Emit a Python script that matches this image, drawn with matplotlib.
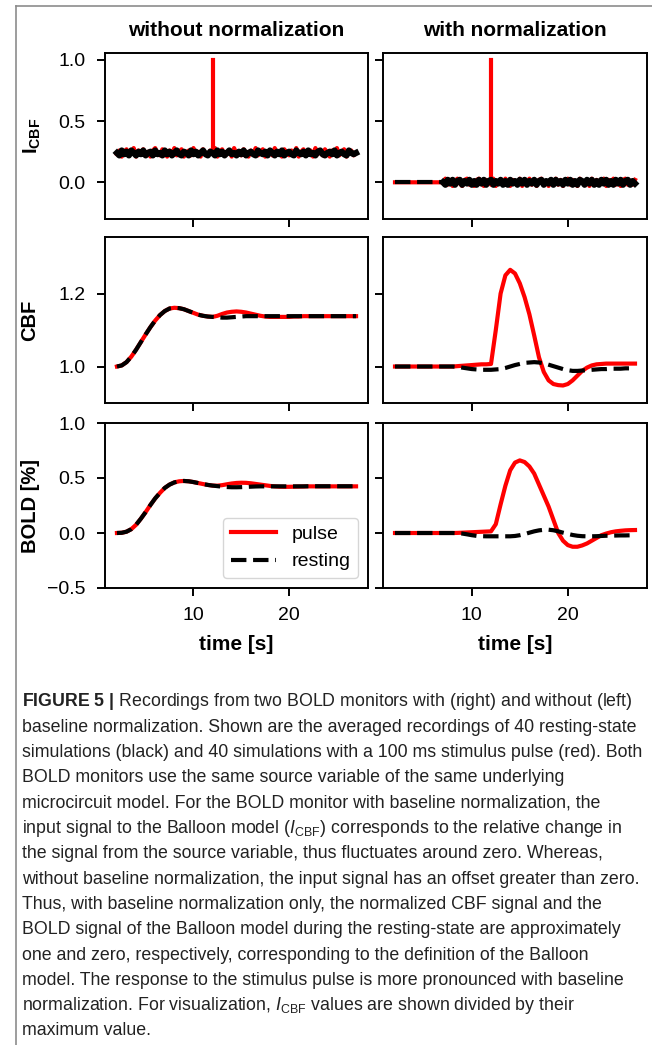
import numpy as np
import matplotlib
matplotlib.use('Agg')
import matplotlib.pyplot as plt
from matplotlib.lines import Line2D

plt.rcParams['font.family'] = ['Liberation Sans', 'DejaVu Sans']
plt.rcParams['mathtext.fontset'] = 'custom'
plt.rcParams['mathtext.rm'] = 'Liberation Sans'
plt.rcParams['mathtext.it'] = 'Liberation Sans:italic'
plt.rcParams['mathtext.bf'] = 'Liberation Sans:bold'

# time grid of the averaged recordings [s]
t = np.arange(2.0, 27.01, 0.5)

# ---- I_CBF (normalized to max), noisy traces sampled every 0.25 s ----
icbf_left_pulse = [0.23, 0.26, 0.21, 0.25, 0.27, 0.22, 0.24, 0.28, 0.21, 0.26,
                   0.23, 0.27, 0.22, 0.25, 0.21, 0.26, 0.28, 0.23, 0.22, 0.27,
                   0.24, 0.21, 0.26, 0.23, 0.28, 0.22, 0.25, 0.27, 0.21, 0.24,
                   0.26, 0.22, 0.28, 0.23, 0.25, 0.21, 0.27, 0.24, 0.22, 0.26,
                   0.23, 0.28, 0.21, 0.25, 0.27, 0.22, 0.24, 0.26, 0.21, 0.28,
                   0.23, 0.25, 0.22, 0.27, 0.24, 0.21, 0.26, 0.23, 0.28, 0.22,
                   0.25, 0.27, 0.21, 0.24, 0.26, 0.22, 0.28, 0.23, 0.25, 0.21,
                   0.27, 0.24, 0.22, 0.26, 0.23, 0.28, 0.21, 0.25, 0.27, 0.22,
                   0.24, 0.26, 0.21, 0.28, 0.23, 0.25, 0.22, 0.27, 0.24, 0.21,
                   0.26, 0.23, 0.28, 0.22, 0.25, 0.27, 0.21, 0.24, 0.26, 0.22,
                   0.24]
icbf_left_rest = [0.24, 0.22, 0.26, 0.23, 0.25, 0.22, 0.26, 0.24, 0.22, 0.25,
                  0.23, 0.26, 0.22, 0.24, 0.25, 0.22, 0.26, 0.23, 0.24, 0.22,
                  0.26, 0.23, 0.25, 0.22, 0.24, 0.26, 0.23, 0.22, 0.25, 0.24,
                  0.22, 0.26, 0.23, 0.25, 0.22, 0.24, 0.26, 0.23, 0.22, 0.25,
                  0.24, 0.22, 0.26, 0.23, 0.25, 0.22, 0.24, 0.26, 0.23, 0.24,
                  0.22, 0.25, 0.23, 0.26, 0.22, 0.24, 0.25, 0.23, 0.22, 0.26,
                  0.24, 0.23, 0.25, 0.22, 0.26, 0.24, 0.22, 0.25, 0.23, 0.26,
                  0.22, 0.24, 0.25, 0.23, 0.22, 0.26, 0.24, 0.23, 0.25, 0.22,
                  0.26, 0.23, 0.24, 0.22, 0.25, 0.26, 0.23, 0.22, 0.24, 0.25,
                  0.23, 0.26, 0.22, 0.24, 0.25, 0.23, 0.22, 0.26, 0.24, 0.23,
                  0.24]
# normalized input: zero during the first 5 s (baseline window), then noise
icbf_right_pulse = [0.0] * 20 + [
                    0.00, 0.03, -0.02, 0.02, -0.03, 0.01, 0.03, -0.01, -0.03, 0.02,
                    0.03, -0.02, 0.01, -0.03, 0.02, 0.03, -0.01, -0.03, 0.02, 0.01,
                    -0.02, 0.03, -0.03, 0.01, 0.02, -0.02, 0.03, -0.01, -0.03, 0.02,
                    0.01, -0.02, 0.03, -0.03, 0.02, -0.01, 0.03, -0.02, 0.01, -0.03,
                    0.02, 0.03, -0.02, 0.01, -0.03, 0.02, -0.01, 0.03, -0.02, 0.02,
                    -0.03, 0.01, 0.03, -0.02, 0.02, -0.01, -0.03, 0.03, 0.01, -0.02,
                    0.02, -0.03, 0.03, -0.01, 0.02, -0.02, 0.01, 0.03, -0.03, 0.02,
                    -0.01, 0.03, -0.02, 0.01, -0.03, 0.02, 0.03, -0.02, 0.01, -0.02,
                    0.02]
icbf_right_rest = [0.0] * 20 + [
                   0.00, -0.02, 0.02, -0.01, 0.02, -0.02, 0.01, 0.02, -0.02, 0.01,
                   -0.01, 0.02, -0.02, 0.01, -0.02, 0.02, -0.01, 0.02, -0.02, 0.01,
                   0.02, -0.02, 0.01, -0.01, 0.02, -0.02, 0.01, -0.02, 0.02, -0.01,
                   0.01, -0.02, 0.02, -0.01, 0.02, -0.02, 0.01, -0.01, 0.02, -0.02,
                   0.01, 0.02, -0.02, 0.01, -0.01, 0.02, -0.02, 0.02, -0.01, 0.01,
                   -0.02, 0.02, -0.01, 0.02, -0.02, 0.01, -0.02, 0.02, 0.01, -0.02,
                   0.02, -0.01, 0.02, -0.02, 0.01, -0.02, 0.02, -0.01, 0.02, -0.02,
                   0.01, -0.02, 0.02, -0.01, 0.02, -0.02, 0.01, 0.02, -0.02, 0.01,
                   -0.01]
noise_start = 20  # index where the right-hand traces start to fluctuate (t = 7 s)
pulse_time = 12.0
pulse_peak = 1.0
icbf_left_base = 0.24
icbf_right_base = 0.0

# ---- CBF ----
cbf_left_pulse = [1.000, 1.003, 1.012, 1.027, 1.046, 1.067, 1.088, 1.108, 1.126, 1.141,
                  1.152, 1.159, 1.161, 1.160, 1.157, 1.152, 1.147, 1.142, 1.139, 1.137,
                  1.136, 1.139, 1.144, 1.148, 1.150, 1.151, 1.150, 1.148, 1.145, 1.142,
                  1.139, 1.137, 1.136, 1.136, 1.136, 1.136, 1.136, 1.137, 1.137, 1.138,
                  1.138, 1.138, 1.138, 1.138, 1.138, 1.138, 1.138, 1.138, 1.138, 1.138,
                  1.138]
cbf_left_rest = [1.000, 1.003, 1.012, 1.027, 1.046, 1.067, 1.088, 1.108, 1.126, 1.141,
                 1.152, 1.159, 1.161, 1.160, 1.157, 1.152, 1.147, 1.142, 1.139, 1.137,
                 1.136, 1.135, 1.134, 1.134, 1.135, 1.136, 1.137, 1.138, 1.138, 1.138,
                 1.138, 1.138, 1.138, 1.138, 1.138, 1.138, 1.138, 1.138, 1.138, 1.138,
                 1.138, 1.138, 1.138, 1.138, 1.138, 1.138, 1.138, 1.138, 1.138, 1.138,
                 1.138]
cbf_right_pulse = [1.000, 1.000, 1.000, 1.000, 1.000, 1.000, 1.000, 1.000, 1.000, 1.000,
                   1.000, 1.000, 1.000, 1.001, 1.002, 1.003, 1.004, 1.005, 1.006, 1.006,
                   1.007, 1.100, 1.200, 1.250, 1.265, 1.255, 1.228, 1.190, 1.143, 1.085,
                   1.025, 0.985, 0.962, 0.952, 0.949, 0.948, 0.952, 0.962, 0.975, 0.988,
                   0.997, 1.003, 1.006, 1.007, 1.008, 1.008, 1.008, 1.008, 1.008, 1.008,
                   1.008]
cbf_right_rest = [1.000, 1.000, 1.000, 1.000, 1.000, 1.000, 1.000, 1.000, 1.000, 1.000,
                  1.000, 1.000, 1.000, 0.999, 0.997, 0.995, 0.993, 0.992, 0.991, 0.991,
                  0.991, 0.992, 0.993, 0.996, 1.000, 1.004, 1.007, 1.010, 1.011, 1.012,
                  1.011, 1.009, 1.005, 1.001, 0.997, 0.993, 0.990, 0.988, 0.988, 0.989,
                  0.990, 0.991, 0.992, 0.993, 0.993, 0.994, 0.994, 0.994, 0.995, 0.995,
                  0.995]

# ---- BOLD [%] ----
bold_left_pulse = [0.000, 0.002, 0.012, 0.035, 0.075, 0.130, 0.190, 0.255, 0.315, 0.365,
                   0.410, 0.440, 0.460, 0.470, 0.473, 0.470, 0.463, 0.454, 0.445, 0.437,
                   0.431, 0.430, 0.435, 0.443, 0.450, 0.455, 0.457, 0.456, 0.452, 0.446,
                   0.440, 0.434, 0.428, 0.424, 0.421, 0.420, 0.420, 0.421, 0.422, 0.423,
                   0.424, 0.424, 0.424, 0.424, 0.424, 0.424, 0.424, 0.424, 0.424, 0.424,
                   0.424]
bold_left_rest = [0.000, 0.002, 0.012, 0.035, 0.075, 0.130, 0.190, 0.255, 0.315, 0.365,
                  0.410, 0.440, 0.460, 0.470, 0.473, 0.470, 0.463, 0.454, 0.445, 0.437,
                  0.431, 0.426, 0.421, 0.418, 0.416, 0.416, 0.417, 0.419, 0.421, 0.423,
                  0.424, 0.424, 0.424, 0.424, 0.424, 0.424, 0.424, 0.424, 0.424, 0.424,
                  0.425, 0.425, 0.425, 0.425, 0.425, 0.425, 0.425, 0.425, 0.425, 0.425,
                  0.425]
bold_right_pulse = [0.000, 0.000, 0.000, 0.000, 0.000, 0.000, 0.000, 0.000, 0.000, 0.000,
                    0.000, 0.000, 0.000, 0.001, 0.003, 0.005, 0.007, 0.009, 0.011, 0.013,
                    0.015, 0.080, 0.260, 0.430, 0.570, 0.640, 0.660, 0.645, 0.605, 0.540,
                    0.440, 0.340, 0.240, 0.120, 0.000, -0.070, -0.110, -0.125, -0.125, -0.113,
                    -0.095, -0.070, -0.045, -0.020, -0.005, 0.007, 0.015, 0.020, 0.024, 0.026,
                    0.027]
bold_right_rest = [0.000, 0.000, 0.000, 0.000, 0.000, 0.000, 0.000, 0.000, 0.000, 0.000,
                   0.000, 0.000, 0.000, -0.002, -0.005, -0.012, -0.020, -0.026, -0.029, -0.030,
                   -0.030, -0.030, -0.030, -0.030, -0.030, -0.027, -0.020, -0.010, 0.003, 0.015,
                   0.024, 0.029, 0.030, 0.025, 0.015, 0.003, -0.008, -0.018, -0.025, -0.029,
                   -0.030, -0.030, -0.029, -0.027, -0.025, -0.024, -0.023, -0.022, -0.022, -0.021,
                   -0.021]

col_titles = ['without normalization', 'with normalization']
row_labels = [r'$\mathbf{I_{CBF}}$', 'CBF', 'BOLD [%]']
row_yticks = [[0.0, 0.5, 1.0], [1.0, 1.2], [-0.5, 0.0, 0.5, 1.0]]
row_ylims = [(-0.3, 1.057), (0.9, 1.355), (-0.5, 1.0)]
xticks = [10, 20]

caption_lines = [
    r'$\mathbf{FIGURE\ 5\ |}$ Recordings from two BOLD monitors with (right) and without (left)',
    'baseline normalization. Shown are the averaged recordings of 40 resting-state',
    'simulations (black) and 40 simulations with a 100 ms stimulus pulse (red). Both',
    'BOLD monitors use the same source variable of the same underlying',
    'microcircuit model. For the BOLD monitor with baseline normalization, the',
    r'input signal to the Balloon model ($\mathit{I}_{\mathrm{CBF}}$) corresponds to the relative change in',
    'the signal from the source variable, thus fluctuates around zero. Whereas,',
    'without baseline normalization, the input signal has an offset greater than zero.',
    'Thus, with baseline normalization only, the normalized CBF signal and the',
    'BOLD signal of the Balloon model during the resting-state are approximately',
    'one and zero, respectively, corresponding to the definition of the Balloon',
    'model. The response to the stimulus pulse is more pronounced with baseline',
    r'normalization. For visualization, $\mathit{I}_{\mathrm{CBF}}$ values are shown divided by their',
    'maximum value.',
]

W, H = 652, 1045
fig = plt.figure(figsize=(W / 100, H / 100), dpi=100)


def px_axes(x0, y0, x1, y1):
    return fig.add_axes([x0 / W, 1 - y1 / H, (x1 - x0) / W, (y1 - y0) / H])


cols = [(105, 368), (383, 647)]
rows = [(53, 219), (237, 403), (423, 588)]
axes = [[px_axes(c[0], r[0], c[1], r[1]) for c in cols] for r in rows]

RED = '#ff0000'
LW = 3.0
LW_NOISE_RED = 3.0
LW_NOISE_BLACK = 4.5

t_noise_l = np.linspace(2, 27, len(icbf_left_pulse))
t_noise_r = np.linspace(2, 27, len(icbf_right_pulse))

# top row: I_CBF  (the dense recorded noise makes the dashed black trace look solid)
ax = axes[0][0]
ax.plot(t_noise_l, icbf_left_pulse, color=RED, lw=LW_NOISE_RED)
ax.plot([pulse_time, pulse_time], [icbf_left_base, pulse_peak], color=RED, lw=LW)
ax.plot(t_noise_l, icbf_left_rest, color='black', lw=LW_NOISE_BLACK)
ax = axes[0][1]
ax.plot(t_noise_r, icbf_right_pulse, color=RED, lw=LW_NOISE_RED)
ax.plot([pulse_time, pulse_time], [icbf_right_base, pulse_peak], color=RED, lw=LW)
ax.plot(t_noise_r[:noise_start + 1], icbf_right_rest[:noise_start + 1], color='black',
        lw=LW, ls='--')
ax.plot(t_noise_r[noise_start:], icbf_right_rest[noise_start:], color='black',
        lw=LW_NOISE_BLACK)

# middle row: CBF
axes[1][0].plot(t, cbf_left_pulse, color=RED, lw=LW)
axes[1][0].plot(t, cbf_left_rest, color='black', lw=LW, ls='--')
axes[1][1].plot(t, cbf_right_pulse, color=RED, lw=LW)
axes[1][1].plot(t, cbf_right_rest, color='black', lw=LW, ls='--')

# bottom row: BOLD
axes[2][0].plot(t, bold_left_pulse, color=RED, lw=LW, label='pulse')
axes[2][0].plot(t, bold_left_rest, color='black', lw=LW, ls='--', label='resting')
axes[2][1].plot(t, bold_right_pulse, color=RED, lw=LW)
axes[2][1].plot(t, bold_right_rest, color='black', lw=LW, ls='--')

for i in range(3):
    for j in range(2):
        ax = axes[i][j]
        ax.set_xlim(0.75, 28.25)
        ax.set_ylim(*row_ylims[i])
        ax.set_xticks(xticks)
        ax.set_yticks(row_yticks[i])
        ax.tick_params(direction='out', length=6, width=1.4, labelsize=14, pad=8)
        for s in ax.spines.values():
            s.set_linewidth(1.4)
        if i < 2:
            ax.set_xticklabels([])
        if j == 1:
            ax.set_yticklabels([])

axes[2][0].legend(loc='lower right', fontsize=14, handlelength=2.3)

# column titles, row labels, x labels
for j, (c0, c1) in enumerate(cols):
    fig.text((c0 + c1) / 2 / W, 1 - 31 / H, col_titles[j], ha='center', va='center',
             fontsize=15, fontweight='bold')
    fig.text((c0 + c1) / 2 / W, 1 - 645 / H, 'time [s]', ha='center', va='center',
             fontsize=15, fontweight='bold')
label_x = [32, 30, 31]
for i, (r0, r1) in enumerate(rows):
    fig.text(label_x[i] / W, 1 - (r0 + r1) / 2 / H, row_labels[i], rotation=90,
             ha='center', va='center', fontsize=14.5, fontweight='bold')

# frame lines of the figure page
fig.add_artist(Line2D([16 / W, 16 / W], [0, 1 - 6 / H], color='#8c8c8c', lw=1.2))
fig.add_artist(Line2D([16 / W, 1], [1 - 6 / H, 1 - 6 / H], color='#8c8c8c', lw=1.2))

# caption, font size fitted so the widest line spans the page width
renderer = fig.canvas.get_renderer()
widths = []
for line in caption_lines:
    probe = fig.text(22 / W, 0.5, line, fontsize=12)
    widths.append(probe.get_window_extent(renderer).width)
    probe.remove()
cap_size = 12 * 620 / max(widths)
for k, line in enumerate(caption_lines):
    fig.text(22 / W, 1 - (702 + 25.3 * k) / H, line, ha='left', va='center',
             fontsize=cap_size, color='#222222')

fig.savefig('out.png', dpi=100)
